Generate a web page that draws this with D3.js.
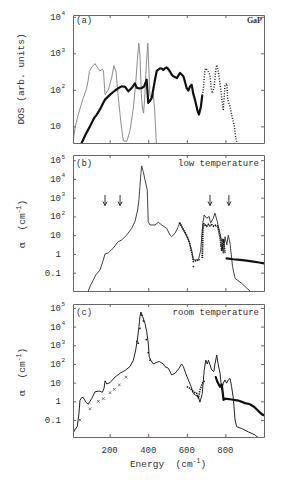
<!DOCTYPE html>
<html>
<head>
<meta charset="utf-8">
<script src="https://cdn.jsdelivr.net/npm/d3@7"></script>
<style>
  body { margin: 0; background: #fff; }
  svg { display: block; background: #fff; }
  text { font-family: "Liberation Mono", "DejaVu Sans Mono", monospace; fill: #333; }
</style>
</head>
<body>
<svg id="chart" width="305" height="485"></svg>
<script>
// ---- data: [energy (cm^-1), value] ----
const xTicks = [200, 400, 600, 800];
const dosTicks = [10, 100, 1000, 10000];
const alphaTicks = [0.1, 1, 10, 100, 1000, 10000, 100000];

// (a) density of states
const dosGrey = [[10,3.8],[22,10],[37,21],[63,60],[81,110],[89,190],[95,316],[107,420],[124,520],[141,380],[150,330],[162,370],[168,330],[176,74],[193,100],[210,210],[222,460],[233,316],[245,60],[254,21],[263,8],[271,4],[289,3.9],[305,7.4],[323,32],[335,150],[344,700],[351,1900],[357,900],[364,80],[370,30],[376,23],[383,80],[390,500],[398,1900],[403,400],[409,66],[418,60],[426,80],[433,30],[442,3.5]];
const dosBlack = [[55,3.5],[75,6],[98,10],[120,17],[133,21],[150,29],[165,42],[176,54],[202,74],[228,96],[250,115],[265,125],[280,120],[297,91],[314,112],[331,150],[340,115],[350,110],[366,112],[378,123],[392,190],[400,44],[409,50],[418,60],[427,110],[435,190],[444,330],[452,355],[461,390],[470,380],[478,350],[487,390],[496,410],[505,360],[513,316],[522,260],[530,235],[548,210],[557,250],[565,290],[574,260],[582,235],[590,170],[599,112],[608,95],[616,123],[625,138],[633,80],[642,54],[656,26],[663,21],[673,35],[680,70]];
const dosDotted = [[680,70],[685,100],[694,355],[698,390],[711,316],[720,257],[725,123],[732,81],[742,123],[750,355],[755,480],[763,316],[772,150],[784,44],[789,29],[798,138],[807,150],[812,54],[824,35],[832,21],[846,10],[855,4.4],[860,3.5]];

// (b) low temperature absorption
const lowTLine = [[89,0.0105],[100,0.02],[115,0.04],[130,0.08],[150,0.14],[165,0.4],[176,1.0],[193,1.15],[218,2],[244,4.5],[262,5.5],[288,10],[314,23],[331,52],[345,220],[352,800],[357,4000],[362,20000],[366,50000],[374,25000],[383,9000],[395,2600],[400,52],[409,35],[435,35],[452,49],[470,35],[496,23],[513,10],[521,8.3],[539,12.6],[556,29],[565,47],[582,19],[608,5.6],[625,1.6],[634,0.48],[660,0.48],[672,1.6],[683,44],[690,120],[703,80],[716,100],[723,44],[737,80],[746,150],[758,52],[772,12.6],[781,4.5],[789,1.07],[798,8.3],[807,3],[815,10],[824,3.7],[837,0.21],[850,0.05],[884,0.027],[927,0.0105]];
const lowTExp1 = [[560,47],[573,29],[585,19],[599,10],[613,4.5],[622,1.6],[630,0.72],[634,0.39],[651,0.44],[668,0.5]];
const lowTExp2 = [[680,0.6],[683,20],[688,40],[695,35],[703,30],[712,38],[720,32],[730,36],[740,30],[750,34],[760,30],[768,12],[772,8],[781,1.6],[789,5.6],[798,1.1]];
const lowTExp3 = [[806,0.58],[840,0.52],[876,0.48],[910,0.44],[945,0.39],[975,0.35],[1000,0.31]];
const lowTDots = [[634,0.21],[592,14],[776,3],[786,6]];
const arrowX = [176, 254, 720, 818];
const arrowTop = 1400, arrowTip = 380;

// (c) room temperature absorption
const roomTLine = [[10,0.019],[20,0.03],[32,0.044],[41,0.23],[46,1.1],[55,1.6],[63,1.6],[77,0.9],[89,0.7],[98,1.0],[107,1.4],[124,3.2],[140,3.5],[150,3.5],[162,3.0],[171,5],[176,12.6],[185,8.5],[202,10],[228,20],[254,32],[280,45],[305,72],[323,160],[335,560],[345,2500],[352,10000],[357,34000],[362,60000],[371,34000],[383,15000],[392,5400],[400,1300],[405,250],[413,160],[426,100],[444,123],[457,135],[478,100],[487,72],[504,59],[521,26],[539,32],[560,59],[573,100],[582,72],[594,32],[608,14],[622,6.2],[634,2.6],[646,2.1],[660,1.7],[668,0.9],[680,2.6],[690,46],[698,160],[706,100],[712,160],[720,89],[729,48],[740,39],[746,100],[755,300],[763,89],[772,32],[781,4.1],[789,9.3],[798,14],[806,9.3],[815,14],[824,17],[832,6.2],[841,1.45],[850,0.1],[858,0.044],[884,0.035],[919,0.023],[953,0.016],[974,0.0105]];
const roomTExp1 = [[600,6],[616,5],[625,4],[634,3.3],[645,2.7],[651,2.7],[660,1.5],[668,4],[680,9],[694,14]];
const roomTExp2 = [[750,20],[757,12],[763,9],[772,6],[781,8],[786,3],[790,1.2],[798,1.4],[832,1.25],[867,1.1],[902,0.8],[927,0.7],[950,0.5],[971,0.3],[990,0.2],[1000,0.18]];
const roomTPeak = [[341,1600],[348,1300],[357,8000],[366,40000],[375,20000],[390,2000],[400,400],[409,160]];
const roomTMarks = [[15,0.03],[46,0.1],[98,0.4],[141,1.0],[167,1.4],[202,2.9],[224,4.4],[250,7.6],[285,19.5]];

// ---- drawing ----
const svg = d3.select("#chart");
const left = 73, right = 264;
const x = d3.scaleLinear().domain([10, 1000]).range([left, right]);

function drawPanel(id, top, bottom, yDomain, yTicks, showX) {
  const y = d3.scaleLog().domain(yDomain).range([bottom, top]);
  const g = svg.append("g");
  g.append("clipPath").attr("id", "clip-" + id)
    .append("rect").attr("x", left).attr("y", top).attr("width", right - left).attr("height", bottom - top);
  const plot = g.append("g").attr("clip-path", `url(#clip-${id})`);

  const axes = [
    [d3.axisBottom(x).tickValues(xTicks), `translate(0,${bottom})`],
    [d3.axisTop(x).tickValues(xTicks), `translate(0,${top})`],
    [d3.axisLeft(y).tickValues(yTicks), `translate(${left},0)`],
    [d3.axisRight(y).tickValues(yTicks), `translate(${right},0)`]
  ];
  axes.forEach(([ax, tr]) => {
    const a = g.append("g").attr("transform", tr)
      .call(ax.tickSizeInner(-3).tickSizeOuter(0).tickFormat(""));
    a.select(".domain").attr("stroke", "#666");
    a.selectAll(".tick line").attr("stroke", "#666");
  });

  // y tick labels with superscripts
  yTicks.forEach(v => {
    const e = Math.round(Math.log10(v));
    const yy = y(v);
    const base = e >= 2 ? "10" : (v === 10 ? "10" : (v === 1 ? "1" : "0.1"));
    g.append("text").attr("x", 61).attr("y", yy + 3)
      .attr("text-anchor", "end").attr("font-size", 9).text(base);
    if (e >= 2) {
      g.append("text").attr("x", 61.5).attr("y", yy - 1.5)
        .attr("font-size", 6).text(e);
    }
  });

  if (showX) {
    xTicks.forEach(v => {
      g.append("text").attr("x", x(v)).attr("y", bottom + 16)
        .attr("text-anchor", "middle").attr("font-size", 9).text(v);
    });
  }
  return { y, plot, g };
}

function addLine(p, data, color, width, dash) {
  const line = d3.line().x(d => x(d[0])).y(d => p.y(d[1]));
  const path = p.plot.append("path").datum(data)
    .attr("d", line).attr("fill", "none")
    .attr("stroke", color).attr("stroke-width", width)
    .attr("stroke-linejoin", "round")
    .attr("stroke-linecap", dash ? "butt" : "round");
  if (dash) path.attr("stroke-dasharray", dash);
}

function addDots(p, data, r) {
  p.plot.append("g").selectAll("circle").data(data).join("circle")
    .attr("cx", d => x(d[0])).attr("cy", d => p.y(d[1]))
    .attr("r", r).attr("fill", "#222");
}

// panel (a)
const pa = drawPanel("a", 15, 143, [3.5, 11200], dosTicks, false);
addLine(pa, dosGrey, "#8c8c8c", 1);
addLine(pa, dosBlack, "#111", 2.2);
addLine(pa, dosDotted, "#222", 1.5, "1,1.6");

// panel (b)
const pb = drawPanel("b", 155, 291, [0.0105, 190000], alphaTicks, false);
addLine(pb, lowTLine, "#444", 1);
addLine(pb, lowTExp1, "#111", 1.6, "1.3,1");
addLine(pb, lowTExp2, "#111", 1.8, "1.3,0.8");
addLine(pb, lowTExp3, "#111", 2.2);
addDots(pb, lowTDots, 0.8);
arrowX.forEach(v => {
  const ax = x(v), y0 = pb.y(arrowTop), y1 = pb.y(arrowTip);
  pb.plot.append("line").attr("x1", ax).attr("x2", ax).attr("y1", y0).attr("y2", y1)
    .attr("stroke", "#333").attr("stroke-width", 1);
  pb.plot.append("path").attr("d", `M${ax - 2},${y1 - 4}L${ax},${y1}L${ax + 2},${y1 - 4}`)
    .attr("fill", "none").attr("stroke", "#333").attr("stroke-width", 1);
});

// panel (c)
const pc = drawPanel("c", 304, 437, [0.0123, 162000], alphaTicks, true);
addLine(pc, roomTLine, "#222", 1);
addLine(pc, roomTExp1, "#111", 1.6, "1.3,1");
addLine(pc, roomTExp2, "#111", 2.2);
addDots(pc, roomTPeak, 0.9);
pc.plot.append("g").selectAll("path").data(roomTMarks).join("path")
  .attr("transform", d => `translate(${x(d[0])},${pc.y(d[1])})`)
  .attr("d", "M-1.3,-1.3L1.3,1.3M-1.3,1.3L1.3,-1.3")
  .attr("stroke", "#555").attr("stroke-width", 0.8).attr("fill", "none");

// panel labels
const labels = [
  ["(a)", 76, 23, "start"], ["(b)", 76, 166, "start"], ["(c)", 76, 315, "start"],
  ["low temperature", 259, 166, "end"], ["room temperature", 259, 315, "end"]
];
labels.forEach(([t, lx, ly, anc]) => {
  svg.append("text").attr("x", lx).attr("y", ly).attr("text-anchor", anc)
    .attr("font-size", 9).text(t);
});
svg.append("text").attr("x", 262).attr("y", 23).attr("text-anchor", "end")
  .attr("font-size", 8).attr("font-weight", "bold")
  .style("font-family", "'Liberation Serif', serif").text("GaP");

// axis titles
svg.append("text").attr("transform", "translate(24,79) rotate(-90)")
  .attr("text-anchor", "middle").attr("font-size", 9.5).text("DOS (arb. units)");

function alphaTitle(cy) {
  const t = svg.append("text").attr("transform", `translate(25,${cy}) rotate(-90)`)
    .attr("text-anchor", "middle").attr("font-size", 9.5).style("white-space", "pre");
  t.append("tspan").style("font-family", "'DejaVu Serif', serif").text("α");
  t.append("tspan").text("  (cm");
  t.append("tspan").attr("dy", -4).attr("font-size", 6.5).text("-1");
  t.append("tspan").attr("dy", 4).text(")");
}
alphaTitle(224);
alphaTitle(372);

const xt = svg.append("text").attr("x", 168).attr("y", 467)
  .attr("text-anchor", "middle").attr("font-size", 9.5).style("white-space", "pre");
xt.append("tspan").text("Energy  (cm");
xt.append("tspan").attr("dy", -4).attr("font-size", 6.5).text("-1");
xt.append("tspan").attr("dy", 4).text(")");
</script>
</body>
</html>
